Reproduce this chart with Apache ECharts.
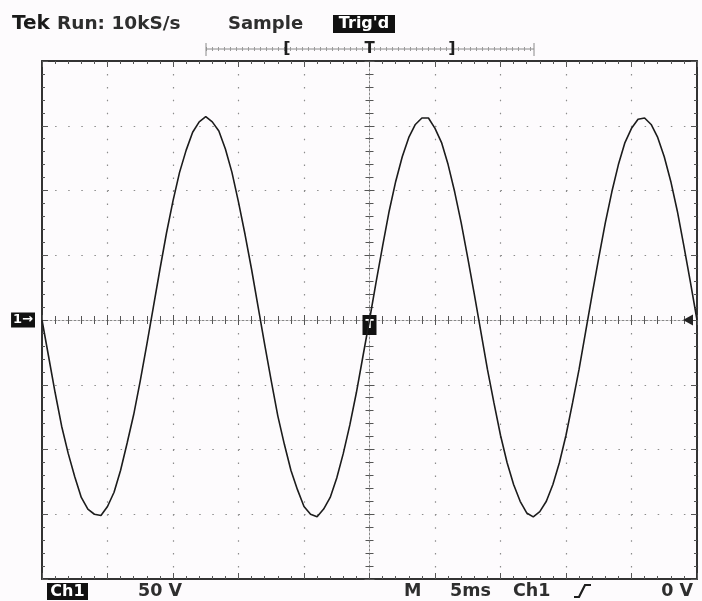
<!DOCTYPE html>
<html>
<head>
<meta charset="utf-8">
<script src="https://cdn.jsdelivr.net/npm/echarts@6/dist/echarts.min.js"></script>
<style>
  html, body { margin: 0; padding: 0; background: #fdfbfd; }
  #chart { width: 702px; height: 601px; }
</style>
</head>
<body>
<div id="chart"></div>
<script>
// Channel 1 capture: sample times (ms, relative to trigger) and voltages (V)
const sampleTimesMs = [
  -25, -24.5, -24, -23.5, -23, -22.5, -22, -21.5, -21, -20.5,
  -20, -19.5, -19, -18.5, -18, -17.5, -17, -16.5, -16, -15.5,
  -15, -14.5, -14, -13.5, -13, -12.5, -12, -11.5, -11, -10.5,
  -10, -9.5, -9, -8.5, -8, -7.5, -7, -6.5, -6, -5.5,
  -5, -4.5, -4, -3.5, -3, -2.5, -2, -1.5, -1, -0.5,
  0, 0.5, 1, 1.5, 2, 2.5, 3, 3.5, 4, 4.5,
  5, 5.5, 6, 6.5, 7, 7.5, 8, 8.5, 9, 9.5,
  10, 10.5, 11, 11.5, 12, 12.5, 13, 13.5, 14, 14.5,
  15, 15.5, 16, 16.5, 17, 17.5, 18, 18.5, 19, 19.5,
  20, 20.5, 21, 21.5, 22, 22.5, 23, 23.5, 24, 24.5,
  25
];
const ch1Volts = [
  0, -28, -56, -82, -103, -121, -137, -146, -150, -151,
  -144, -133, -116, -95, -73, -47, -19, 10, 39, 67,
  92, 114, 131, 145, 153, 157, 153, 146, 132, 114,
  91, 66, 39, 10, -19, -47, -74, -96, -116, -131,
  -144, -150, -152, -146, -137, -122, -103, -81, -56, -28,
  0, 29, 57, 84, 107, 126, 141, 151, 156, 156,
  148, 137, 120, 99, 75, 48, 20, -9, -38, -64,
  -89, -110, -127, -140, -149, -152, -148, -140, -127, -110,
  -89, -64, -38, -9, 20, 48, 75, 99, 120, 137,
  148, 155, 156, 151, 141, 126, 107, 84, 57, 29,
  0
];

// Screen scale: 10 horizontal divisions of 5 ms, 8 vertical divisions of 50 V
const timeRange = [-25, 25];
const timePerDiv = 5;
const voltRange = [-200, 200];
const voltsPerDiv = 50;

// Readout texts
const headerTexts = { brand: 'Tek', run: 'Run: 10kS/s', mode: 'Sample', trig: "Trig'd" };
const footerTexts = { channel: 'Ch1', scale: '50 V', main: 'M', timebase: '5ms', trigSrc: 'Ch1', trigLevel: '0 V' };

const FONT = '"DejaVu Sans", "Open Sans", sans-serif';
const INK = '#2e2e2e';
const FRAME = '#333';
const TICK = '#555';

const seriesData = sampleTimesMs.map((t, i) => [t, ch1Volts[i]]);

function borderX(position) {
  return {
    type: 'value', min: timeRange[0], max: timeRange[1], interval: timePerDiv,
    position: position,
    axisLine: { show: true, onZero: false, lineStyle: { color: FRAME, width: 2 } },
    axisTick: { show: true, inside: true, length: 6, lineStyle: { color: TICK, width: 1 } },
    minorTick: { show: true, splitNumber: 5, length: 3, lineStyle: { color: TICK, width: 1 } },
    axisLabel: { show: false },
    splitLine: { show: false }
  };
}
function borderY(position) {
  return {
    type: 'value', min: voltRange[0], max: voltRange[1], interval: voltsPerDiv,
    position: position,
    axisLine: { show: true, onZero: false, lineStyle: { color: FRAME, width: 2 } },
    axisTick: { show: true, inside: true, length: 6, lineStyle: { color: TICK, width: 1 } },
    minorTick: { show: true, splitNumber: 5, length: 3, lineStyle: { color: TICK, width: 1 } },
    axisLabel: { show: false },
    splitLine: { show: false }
  };
}
function centerX(inside, showLine) {
  return {
    type: 'value', min: timeRange[0], max: timeRange[1], interval: timePerDiv,
    position: 'bottom',
    axisLine: { show: showLine, onZero: true, onZeroAxisIndex: 0,
      lineStyle: { color: '#888', width: 1, type: [2, 2] } },
    axisTick: { show: true, inside: inside, length: 5, lineStyle: { color: TICK, width: 1 } },
    minorTick: { show: true, splitNumber: 5, length: 4, lineStyle: { color: TICK, width: 1 } },
    axisLabel: { show: false },
    splitLine: { show: false }
  };
}
function centerY(inside, showLine) {
  return {
    type: 'value', min: voltRange[0], max: voltRange[1], interval: voltsPerDiv,
    position: 'left',
    axisLine: { show: showLine, onZero: true, onZeroAxisIndex: 0,
      lineStyle: { color: '#888', width: 1, type: [2, 2] } },
    axisTick: { show: true, inside: inside, length: 5, lineStyle: { color: TICK, width: 1 } },
    minorTick: { show: true, splitNumber: 5, length: 4, lineStyle: { color: TICK, width: 1 } },
    axisLabel: { show: false },
    splitLine: { show: false }
  };
}

// Bottom border axis carries the dotted vertical graticule
const xMain = borderX('bottom');
xMain.splitLine = { show: true, lineStyle: { color: '#8c8c8c', width: 1.2, type: [1.5, 11.45] } };
// Left border axis carries the dotted horizontal graticule and the channel ground marker
const yMain = borderY('left');
yMain.splitLine = { show: true, lineStyle: { color: '#8c8c8c', width: 1.2, type: [1.5, 11.6] } };
yMain.axisLabel = {
  show: true, margin: 7,
  formatter: v => (v === 0 ? '{m|1\u2192}' : ''),
  rich: { m: { backgroundColor: '#111', color: '#fff', fontFamily: FONT, fontWeight: 'bold',
               fontSize: 13, lineHeight: 15, padding: [1, 2, 1, 2] } }
};

const chart = echarts.init(document.getElementById('chart'), null, { renderer: 'canvas' });

const textItem = (x, y, text, style) => ({
  type: 'text', x: x, y: y,
  style: Object.assign({ text: text, fill: INK, font: 'bold 18px ' + FONT, textVerticalAlign: 'middle' }, style)
});

chart.setOption({
  backgroundColor: '#fdfbfd',
  animation: false,
  grid: { left: 42, top: 61, width: 655, height: 518, containLabel: false },
  xAxis: [xMain, borderX('top'), centerX(true, true), centerX(false, false)],
  yAxis: [yMain, borderY('right'), centerY(true, true), centerY(false, false)],
  series: [{
    type: 'line',
    xAxisIndex: 0, yAxisIndex: 0,
    data: seriesData,
    showSymbol: false,
    smooth: false,
    lineStyle: { color: '#1c1c1c', width: 1.6 },
    z: 5,
    markPoint: {
      silent: true,
      data: [
        { coord: [0, 0], symbol: 'rect', symbolSize: [14, 20], symbolOffset: [0, 5],
          itemStyle: { color: '#111' },
          label: { show: true, formatter: 'T', color: '#fff', fontFamily: FONT, fontWeight: 'bold', fontSize: 12 } },
        { coord: [timeRange[1], 0], symbol: 'triangle', symbolSize: [11, 10], symbolRotate: 90,
          symbolOffset: [-9, 0], itemStyle: { color: '#222' }, label: { show: false } }
      ]
    }
  }],
  graphic: [
    // status line
    textItem(12, 24, headerTexts.brand, { font: 'bold 20px ' + FONT, fill: '#1a1a1a' }),
    textItem(57, 24, headerTexts.run, { font: 'bold 18.5px ' + FONT }),
    textItem(228, 24, headerTexts.mode),
    { type: 'rect', shape: { x: 333, y: 15, width: 62, height: 18 }, style: { fill: '#111' } },
    textItem(364, 24, headerTexts.trig, { fill: '#fff', textAlign: 'center', font: 'bold 16px ' + FONT }),
    // record position ruler
    { type: 'line', shape: { x1: 206, y1: 49, x2: 534, y2: 49 }, style: { stroke: '#8a8a8a', lineWidth: 1 } },
    { type: 'line', shape: { x1: 206, y1: 49, x2: 534, y2: 49 }, style: { stroke: '#9a9a9a', lineWidth: 4, lineDash: [1, 5] } },
    { type: 'line', shape: { x1: 206, y1: 43, x2: 206, y2: 56 }, style: { stroke: '#8a8a8a', lineWidth: 1 } },
    { type: 'line', shape: { x1: 534, y1: 43, x2: 534, y2: 56 }, style: { stroke: '#8a8a8a', lineWidth: 1 } },
    textItem(287, 49, '[', { textAlign: 'center', font: 'bold 16px ' + FONT, fill: '#1e1e1e' }),
    textItem(369.5, 49, 'T', { textAlign: 'center', font: 'bold 15px ' + FONT, fill: '#1e1e1e' }),
    textItem(452, 49, ']', { textAlign: 'center', font: 'bold 16px ' + FONT, fill: '#1e1e1e' }),
    // readout line
    { type: 'rect', shape: { x: 47, y: 583, width: 41, height: 17 }, style: { fill: '#111' } },
    textItem(67.5, 591.5, footerTexts.channel, { fill: '#fff', textAlign: 'center', font: 'bold 16px ' + FONT }),
    textItem(138, 591, footerTexts.scale, { font: 'bold 17.5px ' + FONT }),
    textItem(404, 591, footerTexts.main, { font: 'bold 17.5px ' + FONT }),
    textItem(450, 591, footerTexts.timebase, { font: 'bold 17.5px ' + FONT }),
    textItem(513, 591, footerTexts.trigSrc, { font: 'bold 17.5px ' + FONT }),
    { type: 'polyline', shape: { points: [[574, 597], [579, 597], [585, 585], [591, 585]] },
      style: { stroke: '#1e1e1e', lineWidth: 2.2, fill: null } },
    textItem(693, 591, footerTexts.trigLevel, { textAlign: 'right', font: 'bold 17.5px ' + FONT })
  ]
});
</script>
</body>
</html>
